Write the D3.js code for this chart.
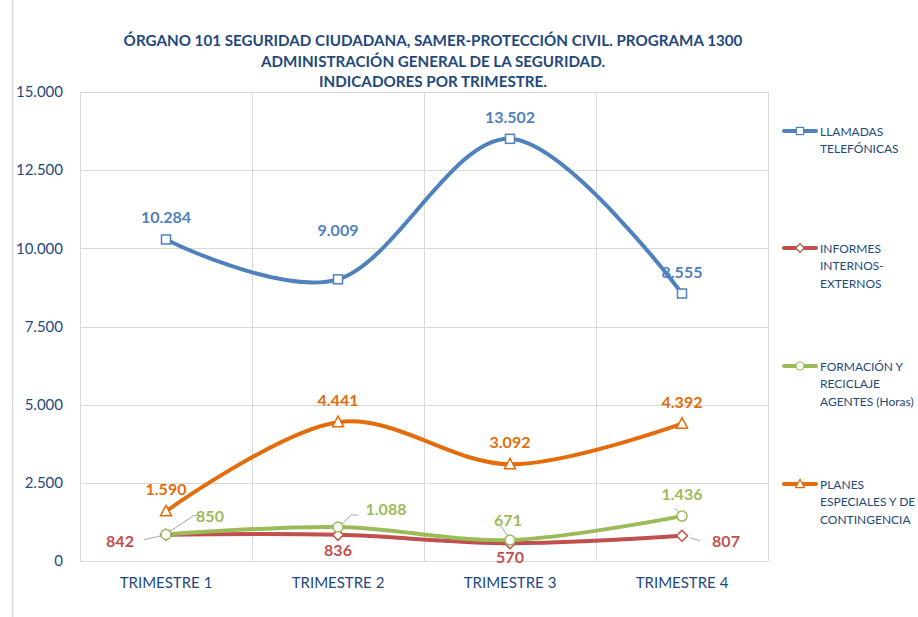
<!DOCTYPE html>
<html>
<head>
<meta charset="utf-8">
<script src="https://cdn.jsdelivr.net/npm/d3@7"></script>
<style>
  body { margin: 0; background: #fff; }
  svg text { font-family: Lato, "Open Sans", sans-serif; }
</style>
</head>
<body>
<div id="chart"></div>
<script>
// Datos del gráfico
var trimestres = ["TRIMESTRE 1", "TRIMESTRE 2", "TRIMESTRE 3", "TRIMESTRE 4"];
var llamadas = [10284, 9009, 13502, 8555];
var informes = [842, 836, 570, 807];
var formacion = [850, 1088, 671, 1436];
var planes = [1590, 4441, 3092, 4392];
var yTicks = [0, 2500, 5000, 7500, 10000, 12500, 15000];
var titulo = [
  "ÓRGANO 101 SEGURIDAD CIUDADANA, SAMER-PROTECCIÓN CIVIL. PROGRAMA 1300",
  "ADMINISTRACIÓN GENERAL DE LA SEGURIDAD.",
  "INDICADORES POR TRIMESTRE."
];

var series = [
  { nombre: ["LLAMADAS", "TELEFÓNICAS"], valores: llamadas, color: "#4f81bd", marca: "square" },
  { nombre: ["INFORMES", "INTERNOS-", "EXTERNOS"], valores: informes, color: "#c0504d", marca: "diamond" },
  { nombre: ["FORMACIÓN Y", "RECICLAJE", "AGENTES (Horas)"], valores: formacion, color: "#9bbb59", marca: "circle" },
  { nombre: ["PLANES", "ESPECIALES Y DE", "CONTINGENCIA"], valores: planes, color: "#e46c0a", marca: "triangle" }
];

function fmt(v) { return d3.format(",")(v).replace(/,/g, "."); }

var W = 918, H = 617;
var margin = { top: 92, left: 80, right: 150, bottom: 56 };
var width = W - margin.left - margin.right,
    height = H - margin.top - margin.bottom;

var svg = d3.select("#chart").append("svg")
  .attr("width", W).attr("height", H);

// borde izquierdo del área del gráfico
svg.append("line").attr("x1", 12.5).attr("x2", 12.5).attr("y1", 0).attr("y2", H)
  .attr("stroke", "#d9d9d9").attr("stroke-width", 1.5);

// Título
svg.append("g").selectAll("text").data(titulo).enter().append("text")
  .attr("x", 433).attr("y", function (d, i) { return 46 + i * 20.5; })
  .attr("text-anchor", "middle")
  .style("font-size", "15.2px").style("font-weight", "bold").style("fill", "#1f497d")
  .text(function (d) { return d; });

var g = svg.append("g").attr("transform", "translate(" + margin.left + "," + margin.top + ")");

var x = d3.scaleBand().domain(trimestres).range([0, width]);
var y = d3.scaleLinear().domain([0, 15000]).range([height, 0]);
var cx = function (i) { return x(trimestres[i]) + x.bandwidth() / 2; };

// Cuadrícula
g.append("g").selectAll("line").data(yTicks).enter().append("line")
  .attr("x1", 0).attr("x2", width)
  .attr("y1", function (d) { return Math.round(y(d)) + 0.5; })
  .attr("y2", function (d) { return Math.round(y(d)) + 0.5; })
  .attr("stroke", "#d9d9d9");
g.append("g").selectAll("line").data(d3.range(trimestres.length + 1)).enter().append("line")
  .attr("x1", function (d) { return Math.round(d * x.step()) + 0.5; })
  .attr("x2", function (d) { return Math.round(d * x.step()) + 0.5; })
  .attr("y1", 0).attr("y2", height)
  .attr("stroke", "#d9d9d9");

// Eje Y
var yAxis = g.append("g")
  .call(d3.axisLeft(y).tickValues(yTicks).tickSize(0).tickPadding(17).tickFormat(fmt));
yAxis.select(".domain").remove();
yAxis.selectAll("text").style("font-size", "15px").style("fill", "#1f497d");

// Eje X
var xAxis = g.append("g").attr("transform", "translate(0," + height + ")")
  .call(d3.axisBottom(x).tickSize(0).tickPadding(16));
xAxis.select(".domain").remove();
xAxis.selectAll("text").style("font-size", "15px").style("fill", "#1f497d");

// Líneas suavizadas
var linea = d3.line()
  .x(function (d, i) { return cx(i); })
  .y(function (d) { return y(d); })
  .curve(d3.curveCatmullRom.alpha(0));

var orden = [1, 2, 3, 0];
orden.forEach(function (k) {
  var s = series[k];
  g.append("path").datum(s.valores)
    .attr("d", linea).attr("fill", "none")
    .attr("stroke", s.color).attr("stroke-width", 4).attr("stroke-linecap", "round");
});

function dibujarMarca(sel, tipo, color) {
  if (tipo === "square") {
    sel.append("rect").attr("x", -4.5).attr("y", -4.5).attr("width", 9).attr("height", 9);
  } else if (tipo === "diamond") {
    sel.append("path").attr("d", "M0,-5.5L5.5,0L0,5.5L-5.5,0Z");
  } else if (tipo === "circle") {
    sel.append("circle").attr("r", 5);
  } else {
    sel.append("path").attr("d", "M0,-6L5.5,4.5L-5.5,4.5Z");
  }
  sel.selectAll("*").attr("fill", "#fff").attr("stroke", color).attr("stroke-width", 1.5);
}

orden.forEach(function (k) {
  var s = series[k];
  s.valores.forEach(function (v, i) {
    var m = g.append("g").attr("transform", "translate(" + cx(i) + "," + y(v) + ")");
    dibujarMarca(m, s.marca, s.color);
  });
});

// Etiquetas de datos: desplazamientos respecto al punto
var desp = [
  [[0, -16], [0, -43], [0, -16], [0, -16]],
  [[-46, 12], [0, 21], [0, 20], [44, 11]],
  [[44, -12], [48, -12], [-2, -14], [0, -16]],
  [[0, -16], [0, -16], [0, -16], [0, -16]]
];
// líneas guía (puntos relativos al marcador)
var guias = [
  [[-4, 1], [-22, 5]],
  [[8, 2], [18, 5]],
  [[4, -3], [28, -19], [34, -19]],
  [[4, -3], [13, -12], [20, -12]],
  [[-2, -4], [-10, -15]],
  [[-3, -4], [-8, -8]]
];
var guiaPts = [[1, 0], [1, 3], [2, 0], [2, 1], [2, 2], [2, 3]];
guias.forEach(function (pts, j) {
  var s = guiaPts[j][0], i = guiaPts[j][1];
  var px = cx(i), py = y(series[s].valores[i]);
  g.append("path")
    .attr("d", d3.line()(pts.map(function (p) { return [px + p[0], py + p[1]]; })))
    .attr("fill", "none").attr("stroke", "#a6a6a6").attr("stroke-width", 1);
});

series.forEach(function (s, k) {
  s.valores.forEach(function (v, i) {
    g.append("text")
      .attr("x", cx(i) + desp[k][i][0])
      .attr("y", y(v) + desp[k][i][1])
      .attr("text-anchor", "middle")
      .style("font-size", "16px").style("font-weight", "bold")
      .style("fill", s.color)
      .text(fmt(v));
  });
});

// Leyenda
var legY = [131, 248, 366, 484];
series.forEach(function (s, k) {
  var lg = svg.append("g").attr("transform", "translate(782," + legY[k] + ")");
  lg.append("line").attr("x1", 2).attr("x2", 34).attr("stroke", s.color)
    .attr("stroke-width", 4).attr("stroke-linecap", "round");
  var m = lg.append("g");
  dibujarMarca(m, s.marca, s.color);
  m.attr("transform", "translate(18,0) scale(0.8)");
  lg.selectAll("text.leg").data(s.nombre).enter().append("text")
    .attr("x", 38).attr("y", function (d, i) { return 4.5 + i * 17.7; })
    .style("font-size", "12px").style("fill", "#1f497d")
    .text(function (d) { return d; });
});
</script>
</body>
</html>
